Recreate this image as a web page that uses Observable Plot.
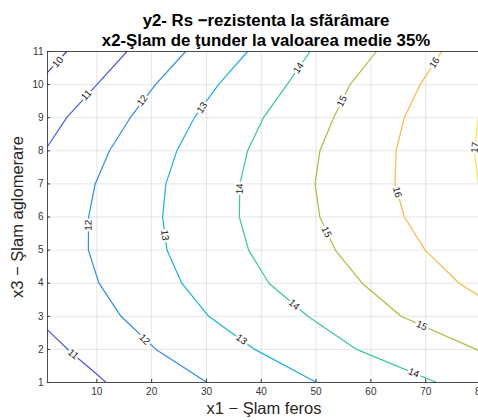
<!DOCTYPE html>
<html><head><meta charset="utf-8">
<script src="https://cdn.jsdelivr.net/npm/d3@7"></script>
<script src="https://cdn.jsdelivr.net/npm/@observablehq/plot@0.6"></script>
<style>
html,body{margin:0;padding:0;overflow:hidden;background:#fff}
#wrap{width:478px;height:420px;overflow:hidden}
#wrap svg{max-width:none !important;width:500px;height:420px}
</style></head><body><div id="wrap"></div>
<script>
// ---- data ----
const titleLines = ["y2- Rs \u2212rezistenta la sf\u0103r\u00e2mare", "x2-\u015elam de \u0163under la valoarea medie 35%"];
const xLabel = "x1 \u2212 \u015elam feros";
const yLabel = "x3 \u2212 \u015elam aglomerare";
const xTicks = [10, 20, 30, 40, 50, 60, 70, 80];
const yTicks = [1, 2, 3, 4, 5, 6, 7, 8, 9, 10, 11];
const levelValues = [10, 11, 12, 13, 14, 15, 16, 17];
const palette = ["#4a3ccc", "#4d55ee", "#2e8bf0", "#19b2df", "#37c69e", "#a7c13c", "#f9ba3e", "#f2ec1e"];

// contour pieces (level, x list, y list)
const pieceLevel = [10, 11, 11, 12, 13, 14, 15, 16, 17];
const pieceX = [
  [1, 4.5],
  [1, 4.5, 10, 15.5],
  [1, 5, 10, 11.7],
  [26.2, 20.7, 16.1, 12.3, 9.7, 8.5, 8.45, 10.4, 14.4, 20.8, 30.1],
  [37.5, 32.2, 27.8, 24.6, 22.6, 22.0, 22.8, 25.5, 30.4, 38.8, 50.1],
  [48.9, 44.7, 40.4, 37.5, 36.1, 36.0, 37.7, 41.4, 48.5, 57.4, 72.0],
  [61, 56.2, 53.2, 50.7, 49.8, 50.7, 53.5, 58.4, 65.5, 79.2, 80],
  [72.9, 69.0, 66.1, 64.6, 64.4, 66.1, 69.9, 76.1, 80],
  [81, 79.6, 78.9, 79.6, 81]
];
const pieceY = [
  [10.37, 11],
  [8.13, 9, 10, 11],
  [2.59, 1.95, 1.25, 1],
  [11, 10, 9, 8, 7, 6, 5, 4, 3, 2, 1],
  [11, 10, 9, 8, 7, 6, 5, 4, 3, 2, 1],
  [11, 10, 9, 8, 7, 6, 5, 4, 3, 2, 1],
  [11, 10, 9, 8, 7, 6, 5, 4, 3, 2, 1.94],
  [11, 10, 9, 8, 7, 6, 5, 4, 3.59],
  [10, 9, 8, 7, 6]
];
// contour labels: which piece, and where
const labelPiece = [0, 1, 2, 3, 3, 3, 4, 4, 4, 5, 5, 5, 5, 6, 6, 6, 7, 7, 8];
const labelX = [2.9, 8.1, 5.7, 18.3, 8.47, 18.7, 29.2, 22.4, 36.4, 46.8, 36.08, 46.0, 67.8, 54.7, 51.9, 69.3, 71.6, 64.8, 79.0];
const labelY = [10.68, 9.68, 1.86, 9.52, 5.75, 2.3, 9.3, 5.45, 2.3, 10.5, 6.85, 3.35, 1.29, 9.5, 5.55, 2.72, 10.66, 6.75, 8.1];

// ---- layout ----
const W = 500, H = 420, mL = 47, mR = 20, mT = 51, mB = 38;
const xs = Plot.scale({x: {domain: [1, 80], range: [mL, W - mR]}});
const ys = Plot.scale({y: {domain: [1, 11], range: [H - mB, mT]}});

const rows = [];
pieceX.forEach((xsArr, i) => xsArr.forEach((x, j) => rows.push({piece: i, level: pieceLevel[i], x, y: pieceY[i][j]})));

const labels = labelPiece.map((p, i) => {
  const px = pieceX[p], py = pieceY[p];
  const x = labelX[i], y = labelY[i];
  let best = null, bd = Infinity;
  for (let j = 0; j < px.length - 1; j++) {
    const ax = xs.apply(px[j]), ay = ys.apply(py[j]), bx = xs.apply(px[j+1]), by = ys.apply(py[j+1]);
    const cx = xs.apply(x), cy = ys.apply(y);
    const vx = bx - ax, vy = by - ay;
    let t = ((cx - ax) * vx + (cy - ay) * vy) / (vx * vx + vy * vy);
    t = Math.max(0, Math.min(1, t));
    const d = Math.hypot(ax + t * vx - cx, ay + t * vy - cy);
    if (d < bd) { bd = d; best = [vx, vy]; }
  }
  let a = Math.atan2(best[1], best[0]) * 180 / Math.PI;
  if (a > 90) a -= 180;
  if (a <= -90) a += 180;
  if (Math.abs(Math.abs(a) - 90) < 12) a = a < 0 ? a + 180 : a;
  if (a > 90) a -= 180;
  return {x, y, text: String(pieceLevel[p]), angle: a};
});

const font = "'Liberation Sans', Arial, Helvetica, sans-serif";

const chart = Plot.plot({
  width: W, height: H, marginLeft: mL, marginRight: mR, marginTop: mT, marginBottom: mB,
  style: {fontFamily: font, background: "white", overflow: "visible", maxWidth: "none"},
  x: {domain: [1, 80]},
  y: {domain: [1, 11]},
  color: {type: "ordinal", domain: levelValues, range: palette},
  marks: [
    Plot.gridX(xTicks, {stroke: "#000", strokeOpacity: 0.1}),
    Plot.gridY(yTicks, {stroke: "#000", strokeOpacity: 0.1}),
    Plot.line(rows, {x: "x", y: "y", z: "piece", stroke: "level", strokeWidth: 1.2, clip: true}),
    Plot.text(labels, {x: "x", y: "y", text: "text", rotate: "angle", fontSize: 9.8, fill: "#1a1a1a", stroke: "white", strokeWidth: 4.5}),
    Plot.frame({stroke: "#262626", strokeWidth: 0.8}),
    Plot.axisX(xTicks, {tickSize: -3, tickPadding: 8, fontSize: 10, color: "#333", label: null}),
    Plot.axisY(yTicks, {tickSize: -3, tickPadding: 7, fontSize: 10, color: "#333", label: null}),
    Plot.text([titleLines[0]], {frameAnchor: "top", dx: 2, dy: -37, fontSize: 16.8, fontWeight: "bold", fill: "#000"}),
    Plot.text([titleLines[1]], {frameAnchor: "top", dx: 2, dy: -17, fontSize: 16.8, fontWeight: "bold", fill: "#000"}),
    Plot.text([xLabel], {frameAnchor: "bottom", dy: 31, fontSize: 16.5, fill: "#262626"}),
    Plot.text([yLabel], {frameAnchor: "left", dx: -30, rotate: -90, textAnchor: "middle", fontSize: 16.5, fill: "#262626"})
  ]
});
document.getElementById("wrap").appendChild(chart);
</script>
</body></html>
